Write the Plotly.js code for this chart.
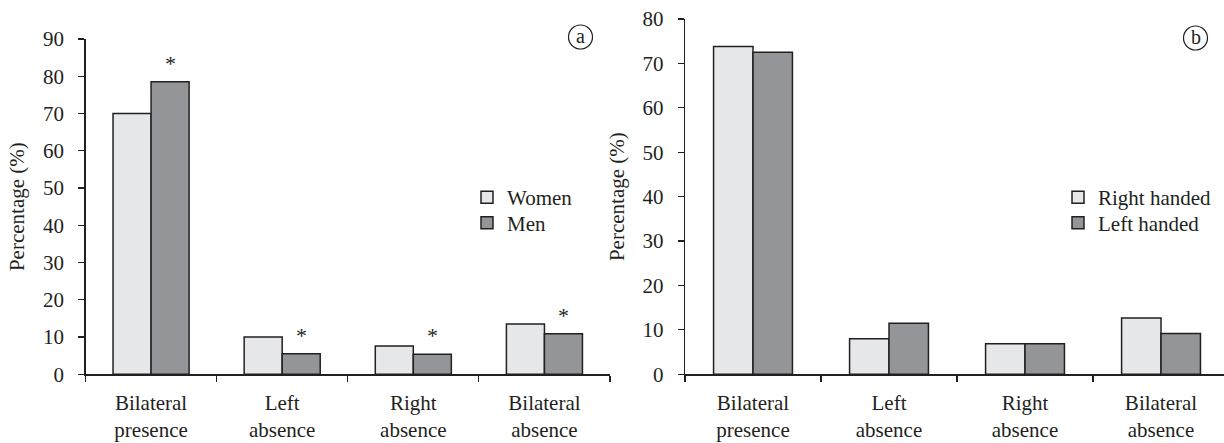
<!DOCTYPE html>
<html>
<head>
<meta charset="utf-8">
<script src="https://cdn.plot.ly/plotly-3.0.1.min.js"></script>
<style>html,body{margin:0;padding:0;background:#fff;}#chart{width:1224px;height:443px;}</style>
</head>
<body>
<div id="chart"></div>
<script>
var categories = ['Bilateral<br>presence', 'Left<br>absence', 'Right<br>absence', 'Bilateral<br>absence'];
var women = [70, 10, 7.6, 13.5];
var men = [78.5, 5.5, 5.4, 10.9];
var menSignificant = [true, true, true, true];
var rightHanded = [73.8, 8.0, 6.9, 12.7];
var leftHanded = [72.5, 11.5, 6.9, 9.2];
var panelLabels = ['a', 'b'];

var W = 1224, H = 443;
var ink = '#231f20';
var light = '#e6e7e8';
var dark = '#939598';
var FONT = 'Liberation Serif';

function barTrace(name, y, color, xa, ya, legend) {
  return {
    type: 'bar', name: name, x: categories, y: y,
    xaxis: xa, yaxis: ya, legend: legend,
    marker: {color: color, line: {color: ink, width: 1.5}},
    hoverinfo: 'skip'
  };
}

var data = [
  barTrace('Women', women, light, 'x', 'y', 'legend'),
  barTrace('Men', men, dark, 'x', 'y', 'legend2'),
  barTrace('Right handed', rightHanded, light, 'x2', 'y2', 'legend3'),
  barTrace('Left handed', leftHanded, dark, 'x2', 'y2', 'legend4')
];

var bargap = 0.42;
var annotations = [];
var menOffset = (1 - bargap) / 4;
menSignificant.forEach(function (s, i) {
  if (!s) return;
  annotations.push({
    xref: 'x', yref: 'y', x: i + menOffset, y: men[i],
    text: '*', showarrow: false, yanchor: 'bottom', yshift: 4,
    font: {family: FONT, size: 22, color: ink}
  });
});

var circles = [{cx: 580.5, cy: 37}, {cx: 1195.5, cy: 38}];
var shapes = [];
circles.forEach(function (c, i) {
  shapes.push({
    type: 'circle', xref: 'paper', yref: 'paper',
    xsizemode: 'pixel', ysizemode: 'pixel',
    xanchor: c.cx / W, yanchor: 1 - c.cy / H,
    x0: -12, x1: 12, y0: -12, y1: 12,
    line: {color: ink, width: 1.2}
  });
  annotations.push({
    xref: 'paper', yref: 'paper', x: c.cx / W, y: 1 - c.cy / H,
    text: panelLabels[i], showarrow: false, xanchor: 'center', yanchor: 'middle',
    yshift: 1,
    font: {family: FONT, size: 20, color: ink}
  });
});

function yAxis(range, domain, xa) {
  return {
    range: range, domain: domain, anchor: xa, dtick: 10,
    showgrid: false, zeroline: false, showline: true, linecolor: ink, linewidth: 1.2,
    ticks: 'outside', ticklen: 6, tickwidth: 1.2, tickcolor: ink,
    ticklabelstandoff: 10,
    tickfont: {family: FONT, size: 21, color: ink},
    title: {text: 'Percentage (%)', font: {family: FONT, size: 21, color: ink}, standoff: 12}
  };
}
function xAxis(range, domain, ya) {
  return {
    type: 'category', range: range, domain: domain, anchor: ya,
    showgrid: false, zeroline: false, showline: true, linecolor: ink, linewidth: 1.2,
    ticks: 'outside', tickson: 'boundaries', ticklen: 6, tickwidth: 1.2, tickcolor: ink,
    ticklabelstandoff: 9,
    tickfont: {family: FONT, size: 21, color: ink}
  };
}
function legendAt(textLeft, cy) {
  return {
    x: (textLeft - 40) / W, y: 1 - cy / H, xanchor: 'left', yanchor: 'middle',
    bgcolor: 'rgba(0,0,0,0)', font: {family: FONT, size: 21, color: ink}
  };
}

var yBottom = 1 - 374.3 / H;
var layout = {
  width: W, height: H,
  margin: {l: 0, r: 0, t: 0, b: 0},
  paper_bgcolor: '#fff', plot_bgcolor: 'rgba(0,0,0,0)',
  barmode: 'group', bargap: bargap, bargroupgap: 0,
  font: {family: FONT, color: ink},
  xaxis: xAxis([-0.5, 3.5], [85.5 / W, 610 / W], 'y'),
  yaxis: yAxis([0, 90], [yBottom, 1 - 39 / H], 'x'),
  xaxis2: xAxis([-0.5, 3.463], [685 / W, 1], 'y2'),
  yaxis2: yAxis([0, 80], [yBottom, 1 - 19 / H], 'x2'),
  showlegend: true,
  legend: legendAt(507, 197.5),
  legend2: legendAt(507, 223),
  legend3: legendAt(1098, 197.5),
  legend4: legendAt(1098, 223),
  shapes: shapes,
  annotations: annotations
};

Plotly.newPlot('chart', data, layout, {displayModeBar: false, staticPlot: true});
</script>
</body>
</html>
